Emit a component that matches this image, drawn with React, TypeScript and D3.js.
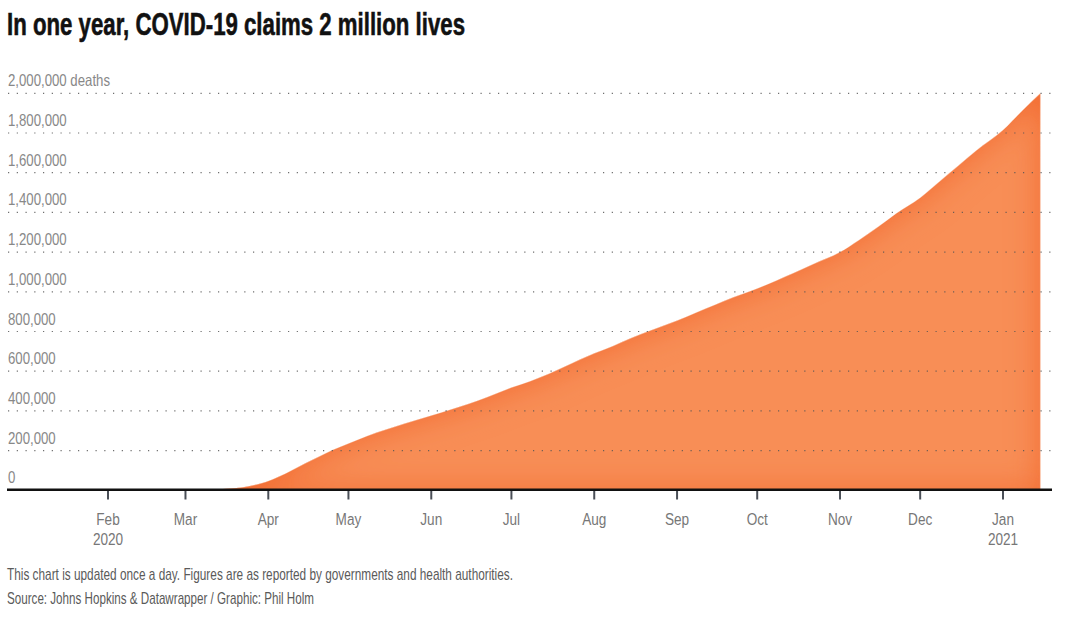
import React from "react";
import * as d3 from "d3";

const dates = [
  "2020-01-22", "2020-02-01", "2020-02-15", "2020-03-01", "2020-03-10", "2020-03-15",
  "2020-03-20", "2020-03-25", "2020-03-31", "2020-04-05", "2020-04-10", "2020-04-15",
  "2020-04-20", "2020-04-25", "2020-05-01", "2020-05-08", "2020-05-15", "2020-05-22",
  "2020-06-01", "2020-06-08", "2020-06-15", "2020-06-22", "2020-07-01", "2020-07-08",
  "2020-07-15", "2020-07-22", "2020-08-01", "2020-08-08", "2020-08-15", "2020-08-22",
  "2020-09-01", "2020-09-08", "2020-09-15", "2020-09-22", "2020-10-01", "2020-10-08",
  "2020-10-15", "2020-10-22", "2020-11-01", "2020-11-08", "2020-11-15", "2020-11-22",
  "2020-12-01", "2020-12-08", "2020-12-15", "2020-12-22", "2021-01-01", "2021-01-08",
  "2021-01-15",
];
const deaths = [
  17, 259, 1666, 2996, 4262, 6440,
  11299, 21181, 42107, 69374, 102525, 137000,
  170000, 203000, 236000, 274000, 306000, 336000,
  377000, 406000, 436000, 470000, 518000, 550000,
  587000, 630000, 690000, 727000, 768000, 805000,
  855000, 895000, 934000, 972000, 1017000, 1056000,
  1097000, 1140000, 1200000, 1260000, 1325000, 1395000,
  1474000, 1553000, 1632000, 1712000, 1815000, 1910000,
  2000000,
];

const yTicks = [0, 200000, 400000, 600000, 800000, 1000000, 1200000, 1400000, 1600000, 1800000, 2000000];
const xTickDates = [
  "2020-02-01", "2020-03-01", "2020-04-01", "2020-05-01", "2020-06-01", "2020-07-01",
  "2020-08-01", "2020-09-01", "2020-10-01", "2020-11-01", "2020-12-01", "2021-01-01",
];
const xTickMonths = ["Feb", "Mar", "Apr", "May", "Jun", "Jul", "Aug", "Sep", "Oct", "Nov", "Dec", "Jan"];
const xTickYears = ["2020", "", "", "", "", "", "", "", "", "", "", "2021"];

const title = "In one year, COVID-19 claims 2 million lives";
const note = "This chart is updated once a day. Figures are as reported by governments and health authorities.";
const source = "Source: Johns Hopkins & Datawrapper / Graphic: Phil Holm";

const FONT = "'Liberation Sans', Arial, sans-serif";
const SX = 0.8;

export default function App() {
  const W = 1072, H = 617;
  const parse = d3.utcParse("%Y-%m-%d");
  const x = d3.scaleUtc()
    .domain([parse("2020-02-01")!, parse("2021-01-01")!])
    .range([108, 1003]);
  const y = d3.scaleLinear().domain([0, 2000000]).range([490.3, 93.3]);
  const left = 7, right = 1052;

  const data = dates.map((d, i) => ({ date: parse(d)!, v: deaths[i] }));
  const area = d3.area<{ date: Date; v: number }>()
    .x((d) => x(d.date))
    .y0(y(0))
    .y1((d) => y(d.v))
    .curve(d3.curveMonotoneX);

  const fmt = d3.format(",");

  return (
    <svg width={W} height={H} style={{ position: "absolute", left: 0, top: 0, background: "#fff" }}>
      <defs>
        <filter id="inner" x="-5%" y="-5%" width="110%" height="110%">
          <feFlood floodColor="#f2672a" result="c" />
          <feComposite in="c" in2="SourceAlpha" operator="out" result="inv" />
          <feGaussianBlur in="inv" stdDeviation="16" result="blur" />
          <feComposite in="blur" in2="SourceAlpha" operator="in" result="shadow" />
          <feMerge>
            <feMergeNode in="SourceGraphic" />
            <feMergeNode in="shadow" />
          </feMerge>
        </filter>
      </defs>
      <text x={7} y={35} fontFamily={FONT} fontWeight="bold" fontSize={32} fill="#111"
        stroke="#111" strokeWidth={0.6}
        textLength={458} lengthAdjust="spacingAndGlyphs">{title}</text>

      <path d={area(data) || ""} fill="#f88e56" filter="url(#inner)" />
      <path d={area(data) || ""} fill="none" stroke="#fff" strokeOpacity={0.45} strokeWidth={0.8} />

      {yTicks.map((t) => (
        <g key={t}>
          {t > 0 && (
            <line x1={8} x2={right} y1={y(t)} y2={y(t)} stroke="#555" strokeOpacity={0.85}
              strokeWidth={1.2} strokeDasharray="1.2,7.55" />
          )}
          <text transform={`translate(8,${y(t) - 7}) scale(${SX},1)`} fontFamily={FONT} fontSize={16.5} fill="#888">
            {fmt(t) + (t === 2000000 ? " deaths" : "")}
          </text>
        </g>
      ))}

      <line x1={left} x2={right} y1={489.7} y2={489.7} stroke="#111" strokeWidth={2.6} />
      {xTickDates.map((d, i) => {
        const px = x(parse(d)!);
        return (
          <g key={d}>
            <line x1={px} x2={px} y1={491} y2={499.5} stroke="#4a4f57" strokeWidth={2} />
            <text transform={`translate(${px},524.5) scale(${SX},1)`} textAnchor="middle" fontFamily={FONT} fontSize={17} fill="#777">
              {xTickMonths[i]}
            </text>
            {xTickYears[i] && (
              <text transform={`translate(${px},545) scale(${SX},1)`} textAnchor="middle" fontFamily={FONT} fontSize={17} fill="#777">
                {xTickYears[i]}
              </text>
            )}
          </g>
        );
      })}

      <text x={7} y={580} fontFamily={FONT} fontSize={17} fill="#5a5a5a"
        textLength={506} lengthAdjust="spacingAndGlyphs">{note}</text>
      <text x={7} y={604.3} fontFamily={FONT} fontSize={17} fill="#5a5a5a"
        textLength={307} lengthAdjust="spacingAndGlyphs">{source}</text>
    </svg>
  );
}
